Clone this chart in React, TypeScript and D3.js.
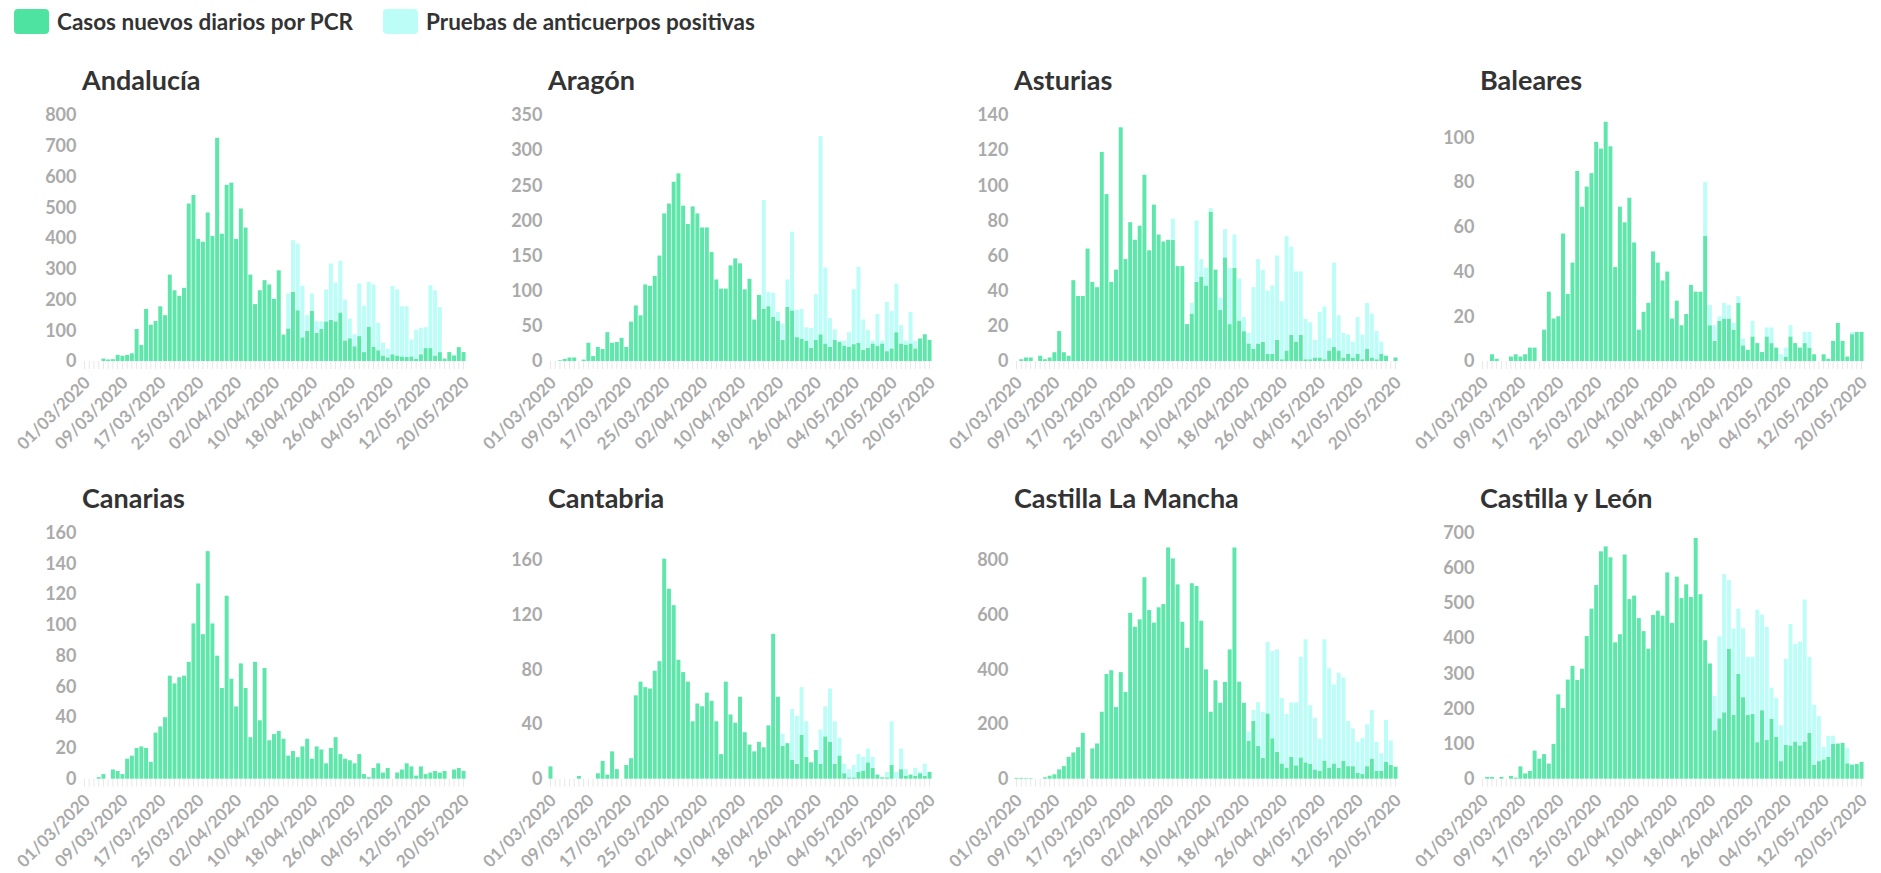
import { useEffect, useRef } from 'react';
import * as d3 from 'd3';

// 01/03/2020 .. 20/05/2020
const days = d3.timeDay
  .range(new Date(2020, 2, 1), new Date(2020, 4, 21))
  .map(d3.timeFormat('%d/%m/%Y'));

const tickLabels = [
  '01/03/2020', '09/03/2020', '17/03/2020', '25/03/2020', '02/04/2020', '10/04/2020',
  '18/04/2020', '26/04/2020', '04/05/2020', '12/05/2020', '20/05/2020',
];

const seriesNames = ['Casos nuevos diarios por PCR', 'Pruebas de anticuerpos positivas'];

// daily values
const andaluciaPcr = [
  0, 0, 0, 0, 8, 5, 6, 20, 17, 20,
  25, 104, 52, 169, 118, 130, 178, 149, 281, 230,
  212, 238, 512, 540, 397, 388, 483, 407, 726, 414,
  573, 580, 397, 496, 434, 281, 185, 230, 263, 249,
  202, 295, 86, 106, 225, 165, 77, 98, 164, 91,
  104, 129, 134, 129, 158, 67, 74, 48, 81, 29,
  112, 46, 35, 18, 12, 22, 18, 15, 13, 15,
  7, 22, 42, 42, 18, 29, 8, 29, 18, 45, 29,
];
const andaluciaAnti = [
  0, 0, 0, 0, 0, 0, 0, 0, 0, 0,
  0, 0, 0, 0, 0, 0, 0, 0, 0, 0,
  0, 0, 0, 0, 0, 0, 0, 0, 0, 0,
  0, 0, 0, 0, 0, 0, 0, 0, 0, 0,
  0, 0, 0, 114, 168, 217, 168, 51, 56, 38,
  25, 104, 183, 126, 168, 133, 63, 39, 171, 151,
  145, 203, 89, 42, 28, 222, 215, 163, 165, 55,
  95, 86, 68, 204, 212, 146, 0, 0, 0, 0, 0,
];

const aragonPcr = [
  0, 0, 1, 3, 5, 5, 0, 2, 26, 7,
  20, 17, 41, 26, 27, 33, 20, 56, 79, 65,
  109, 107, 121, 150, 210, 224, 255, 267, 221, 195,
  220, 210, 190, 190, 155, 116, 103, 103, 136, 146,
  139, 102, 117, 59, 94, 74, 78, 63, 57, 30,
  77, 72, 34, 32, 29, 19, 30, 38, 25, 20,
  30, 27, 22, 20, 24, 26, 16, 19, 25, 22,
  25, 14, 18, 41, 25, 23, 25, 18, 32, 38, 30,
];
const aragonAnti = [
  0, 0, 0, 0, 0, 0, 0, 0, 0, 0,
  0, 0, 0, 0, 0, 0, 0, 0, 0, 0,
  0, 0, 0, 0, 0, 0, 0, 0, 0, 0,
  0, 0, 0, 0, 0, 0, 0, 0, 0, 0,
  0, 0, 0, 0, 0, 155, 20, 34, 13, 23,
  39, 112, 39, 42, 19, 28, 65, 282, 108, 41,
  15, 2, 7, 21, 78, 108, 43, 25, 4, 45,
  4, 70, 53, 69, 26, 6, 45, 11, 0, 0, 0,
];

const asturiasPcr = [
  0, 1, 2, 2, 0, 3, 1, 2, 5, 17,
  5, 3, 46, 37, 37, 64, 45, 42, 119, 95,
  45, 52, 133, 58, 79, 69, 77, 106, 63, 89,
  72, 68, 69, 69, 54, 54, 21, 27, 45, 48,
  43, 85, 52, 29, 59, 21, 53, 23, 17, 10,
  7, 10, 11, 4, 4, 12, 1, 6, 15, 11,
  15, 1, 1, 2, 2, 1, 6, 8, 6, 2,
  4, 2, 4, 1, 7, 2, 1, 4, 3, 0, 2,
];
const asturiasAnti = [
  0, 0, 0, 0, 0, 0, 0, 0, 0, 0,
  0, 0, 0, 0, 0, 0, 0, 0, 0, 0,
  0, 0, 0, 0, 0, 0, 0, 0, 0, 0,
  0, 0, 0, 12, 0, 0, 0, 6, 35, 10,
  10, 2, 0, 7, 16, 32, 19, 24, 8, 6,
  35, 48, 41, 36, 39, 48, 33, 65, 50, 40,
  36, 23, 21, 10, 26, 30, 7, 48, 20, 14,
  11, 9, 21, 14, 26, 25, 16, 7, 0, 0, 0,
];

const balearesPcr = [
  0, 0, 3, 1, 0, 0, 2, 3, 2, 3,
  6, 6, 0, 14, 31, 19, 20, 57, 30, 44,
  85, 69, 78, 84, 98, 95, 107, 96, 42, 69,
  62, 73, 53, 14, 22, 26, 49, 44, 36, 40,
  19, 27, 16, 21, 34, 31, 31, 56, 16, 9,
  18, 19, 19, 14, 26, 7, 5, 11, 8, 4,
  11, 8, 6, 0, 2, 11, 8, 6, 8, 6,
  3, 0, 3, 1, 9, 17, 9, 2, 12, 13, 13,
];
const balearesAnti = [
  0, 0, 0, 0, 0, 0, 0, 0, 0, 0,
  0, 0, 0, 0, 0, 0, 0, 0, 0, 0,
  0, 0, 0, 0, 0, 0, 0, 0, 0, 0,
  0, 0, 0, 0, 0, 0, 0, 0, 0, 0,
  0, 0, 0, 0, 0, 0, 0, 24, 9, 7,
  2, 7, 6, 3, 3, 3, 0, 7, 0, 0,
  4, 7, 0, 3, 4, 5, 0, 0, 5, 7,
  0, 0, 0, 0, 0, 0, 0, 0, 1, 0, 0,
];

const canariasPcr = [
  0, 0, 0, 1, 3, 0, 6, 5, 3, 13,
  15, 20, 21, 20, 11, 30, 34, 40, 67, 62,
  66, 67, 76, 101, 127, 94, 148, 101, 80, 59,
  119, 65, 47, 75, 59, 27, 76, 38, 72, 25,
  29, 31, 26, 15, 18, 14, 21, 26, 13, 21,
  19, 10, 20, 27, 16, 13, 12, 10, 16, 3,
  1, 7, 10, 4, 7, 0, 4, 6, 10, 8,
  2, 8, 3, 4, 5, 4, 5, 0, 6, 7, 5,
];
const canariasAnti: number[] = [];

const cantabriaPcr = [
  9, 0, 0, 0, 0, 0, 2, 0, 0, 0,
  4, 13, 3, 20, 7, 0, 10, 15, 61, 71,
  67, 66, 79, 86, 161, 139, 127, 87, 78, 71,
  42, 55, 53, 63, 57, 42, 18, 71, 47, 41,
  60, 34, 25, 20, 27, 23, 39, 106, 60, 24,
  26, 14, 11, 32, 16, 12, 21, 11, 31, 27,
  11, 17, 4, 1, 1, 5, 6, 12, 8, 3,
  1, 1, 10, 0, 7, 2, 3, 2, 4, 2, 5,
];
const cantabriaAnti = [
  0, 0, 0, 0, 0, 0, 0, 0, 0, 0,
  0, 0, 0, 0, 0, 0, 0, 0, 0, 0,
  0, 0, 0, 0, 0, 0, 0, 0, 0, 0,
  0, 0, 0, 0, 0, 0, 0, 0, 0, 0,
  0, 0, 0, 0, 0, 0, 0, 0, 0, 9,
  0, 37, 35, 35, 26, 0, 0, 25, 22, 39,
  31, 13, 7, 6, 9, 13, 10, 10, 8, 0,
  0, 4, 32, 5, 15, 5, 0, 6, 1, 9, 0,
];

const clmPcr = [
  3, 3, 2, 2, 0, 0, 5, 11, 16, 34,
  46, 80, 96, 115, 168, 0, 111, 129, 245, 383,
  397, 262, 390, 317, 607, 556, 583, 737, 617, 571,
  627, 639, 846, 806, 711, 574, 479, 715, 705, 578,
  400, 245, 360, 278, 354, 473, 846, 355, 278, 139,
  211, 120, 77, 239, 148, 99, 56, 41, 80, 49,
  78, 60, 54, 34, 29, 66, 41, 56, 40, 66,
  46, 46, 22, 17, 46, 74, 29, 29, 62, 50, 44,
];
const clmAnti = [
  0, 0, 0, 0, 0, 0, 0, 0, 0, 0,
  0, 0, 0, 0, 0, 0, 0, 0, 0, 0,
  0, 0, 0, 0, 0, 0, 0, 0, 0, 0,
  0, 0, 0, 0, 0, 0, 0, 0, 0, 0,
  0, 0, 0, 0, 0, 0, 0, 0, 0, 34,
  40, 160, 168, 261, 319, 374, 239, 196, 199, 230,
  368, 450, 215, 189, 118, 444, 363, 289, 348, 304,
  165, 138, 113, 131, 153, 177, 106, 64, 153, 90, 0,
];

const cylPcr = [
  0, 5, 5, 0, 5, 0, 8, 3, 35, 15,
  22, 80, 57, 70, 43, 99, 240, 201, 282, 321,
  281, 313, 406, 484, 551, 647, 661, 630, 388, 411,
  638, 511, 521, 457, 420, 370, 466, 478, 464, 587,
  443, 575, 514, 553, 517, 685, 525, 394, 328, 138,
  172, 189, 370, 182, 298, 232, 182, 184, 104, 195,
  110, 171, 119, 50, 96, 95, 106, 95, 106, 130,
  40, 50, 55, 62, 100, 100, 102, 44, 40, 42, 48,
];
const cylAnti = [
  0, 0, 0, 0, 0, 0, 0, 0, 0, 0,
  0, 0, 0, 0, 0, 0, 0, 0, 0, 0,
  0, 0, 0, 0, 0, 0, 0, 0, 0, 0,
  0, 0, 0, 0, 0, 0, 0, 0, 0, 0,
  0, 0, 0, 0, 0, 0, 0, 0, 0, 98,
  233, 393, 195, 245, 186, 196, 165, 163, 377, 272,
  322, 88, 111, 102, 246, 345, 277, 295, 404, 216,
  170, 128, 35, 60, 22, 0, 0, 43, 0, 0, 0,
];

// y axis ticks / top of scale per region
const andaluciaTicks = [0, 100, 200, 300, 400, 500, 600, 700, 800];
const aragonTicks = [0, 50, 100, 150, 200, 250, 300, 350];
const asturiasTicks = [0, 20, 40, 60, 80, 100, 120, 140];
const balearesTicks = [0, 20, 40, 60, 80, 100];
const canariasTicks = [0, 20, 40, 60, 80, 100, 120, 140, 160];
const cantabriaTicks = [0, 40, 80, 120, 160];
const clmTicks = [0, 200, 400, 600, 800];
const cylTicks = [0, 100, 200, 300, 400, 500, 600, 700];

const panels = [
  { name: 'Andalucía', pcr: andaluciaPcr, anti: andaluciaAnti, max: 800, ticks: andaluciaTicks },
  { name: 'Aragón', pcr: aragonPcr, anti: aragonAnti, max: 350, ticks: aragonTicks },
  { name: 'Asturias', pcr: asturiasPcr, anti: asturiasAnti, max: 140, ticks: asturiasTicks },
  { name: 'Baleares', pcr: balearesPcr, anti: balearesAnti, max: 110, ticks: balearesTicks },
  { name: 'Canarias', pcr: canariasPcr, anti: canariasAnti, max: 160, ticks: canariasTicks },
  { name: 'Cantabria', pcr: cantabriaPcr, anti: cantabriaAnti, max: 180, ticks: cantabriaTicks },
  { name: 'Castilla La Mancha', pcr: clmPcr, anti: clmAnti, max: 900, ticks: clmTicks },
  { name: 'Castilla y León', pcr: cylPcr, anti: cylAnti, max: 700, ticks: cylTicks },
];

const WIDTH = 1881;
const HEIGHT = 873;
const FONT = 'Lato, "Open Sans", sans-serif';
const GREEN = '#5fe6ab';
const CYAN = '#bcfdf7';

export default function App() {
  const svgRef = useRef<SVGSVGElement>(null);

  useEffect(() => {
    if (!svgRef.current) return;
    const svg = d3.select(svgRef.current);
    svg.selectAll('*').remove();

    // Legend
    const legend = svg.append('g');
    const legendItems = [
      { label: seriesNames[0], color: '#4fe3a2', x: 14 },
      { label: seriesNames[1], color: CYAN, x: 383 },
    ];
    legendItems.forEach(item => {
      legend.append('rect')
        .attr('x', item.x)
        .attr('y', 9)
        .attr('width', 35)
        .attr('height', 25)
        .attr('rx', 4)
        .attr('fill', item.color);
      legend.append('text')
        .attr('x', item.x + 43)
        .attr('y', 30)
        .attr('font-family', FONT)
        .attr('font-weight', 700)
        .attr('font-size', '22.5px')
        .attr('fill', '#333')
        .text(item.label);
    });

    const colW = 466;
    const rowH = 417.7;
    const plotW = 383;
    const plotH = 246;

    panels.forEach((p, k) => {
      const col = k % 4;
      const row = Math.floor(k / 4);
      const left = 82.5 + col * colW;
      const base = 361 + row * rowH;

      const x = d3.scaleBand<string>()
        .domain(days)
        .range([left, left + plotW])
        .paddingInner(0.16);

      const y = d3.scaleLinear()
        .domain([0, p.max])
        .range([base, base - plotH]);

      const rows = days.map((day, i) => ({ day, pcr: p.pcr[i] ?? 0, anti: p.anti[i] ?? 0 }));
      const stacked = d3.stack<{ day: string; pcr: number; anti: number }>()
        .keys(['pcr', 'anti'])(rows);

      const g = svg.append('g');

      // light day ticks under the bars
      const dayAxis = g.append('g')
        .attr('transform', `translate(0,${base})`)
        .call(d3.axisBottom(x).tickSize(8).tickFormat(() => ''));
      dayAxis.select('.domain').remove();
      dayAxis.selectAll('line').attr('stroke', '#e8e8e8');

      // stacked bars
      g.selectAll('g.layer')
        .data(stacked)
        .join('g')
        .attr('class', 'layer')
        .attr('fill', (_, j) => (j === 0 ? GREEN : CYAN))
        .selectAll('rect')
        .data(d => d)
        .join('rect')
        .attr('x', d => x(d.data.day) as number)
        .attr('y', d => y(d[1]))
        .attr('width', x.bandwidth())
        .attr('height', d => Math.max(0, y(d[0]) - y(d[1])));

      // y axis
      const yAxis = g.append('g')
        .attr('transform', `translate(${left},0)`)
        .call(d3.axisLeft(y).tickValues(p.ticks).tickSize(0).tickPadding(6));
      yAxis.select('.domain').remove();
      yAxis.selectAll('text')
        .attr('font-family', FONT)
        .attr('font-weight', 700)
        .attr('font-size', '18px')
        .attr('fill', '#aaaaaa');

      // x labels
      const xAxis = g.append('g')
        .attr('transform', `translate(0,${base})`)
        .call(d3.axisBottom(x).tickValues(tickLabels).tickSize(0));
      xAxis.select('.domain').remove();
      xAxis.selectAll('text')
        .attr('y', 0)
        .attr('dy', '0.35em')
        .attr('transform', 'translate(2.5,18.5) rotate(-45)')
        .attr('text-anchor', 'end')
        .attr('font-family', FONT)
        .attr('font-weight', 700)
        .attr('font-size', '17px')
        .attr('fill', '#aaaaaa');

      // title
      g.append('text')
        .attr('x', left - 0.5)
        .attr('y', base - 271)
        .attr('font-family', FONT)
        .attr('font-weight', 700)
        .attr('font-size', '27px')
        .attr('fill', '#333')
        .text(p.name);
    });
  }, []);

  return (
    <svg
      ref={svgRef}
      width={WIDTH}
      height={HEIGHT}
      style={{ position: 'absolute', left: 0, top: 0, background: '#fff' }}
    />
  );
}
